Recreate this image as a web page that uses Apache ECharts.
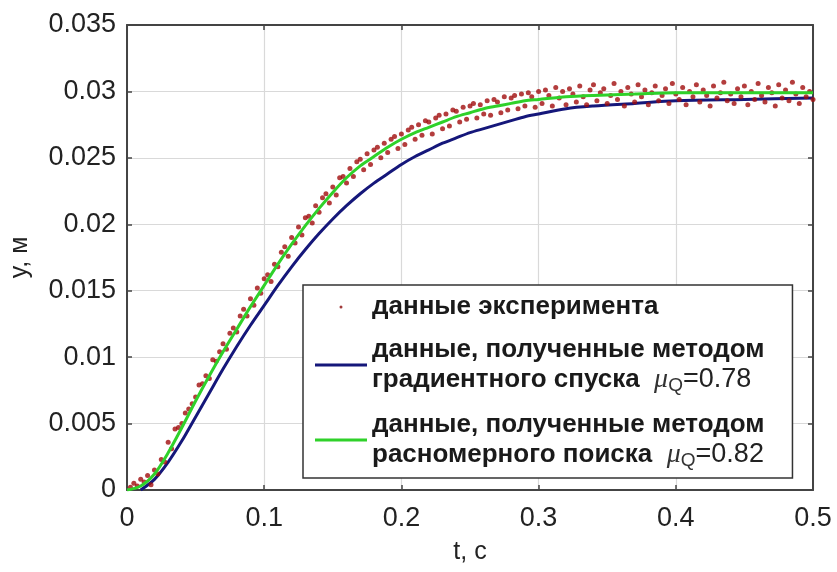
<!DOCTYPE html>
<html>
<head>
<meta charset="utf-8">
<script src="https://cdn.jsdelivr.net/npm/echarts@6/dist/echarts.min.js"></script>
<style>
	html, body { margin: 0; padding: 0; background: #fff; }
	#main { width: 837px; height: 572px; }
</style>
</head>
<body>
<div id="main"></div>
<script>
// ticks
var xTicks = [0, 0.1, 0.2, 0.3, 0.4, 0.5];
var yTicks = [0, 0.005, 0.01, 0.015, 0.02, 0.025, 0.03, 0.035];

// gradient descent model (blue)
var blueT = [0.01, 0.02, 0.03, 0.04, 0.05, 0.06, 0.07, 0.08, 0.09, 0.1,
	0.11, 0.12, 0.13, 0.14, 0.15, 0.16, 0.17, 0.18, 0.19, 0.2,
	0.21, 0.22, 0.23, 0.24, 0.25, 0.26, 0.27, 0.28, 0.29, 0.3,
	0.32, 0.34, 0.37, 0.4, 0.45, 0.5];
var blueY = [0, 0.0008, 0.0021, 0.0037, 0.0055, 0.0073, 0.0091, 0.0108, 0.0124, 0.0139,
	0.0154, 0.0168, 0.0181, 0.0193, 0.0204, 0.0214, 0.0223, 0.0231, 0.0238, 0.0245,
	0.0251, 0.0256, 0.0261, 0.0265, 0.0269, 0.0272, 0.0275, 0.0278, 0.0281, 0.0283,
	0.0287, 0.0289, 0.0291, 0.0293, 0.0294, 0.0295];

// search model (green)
var greenT = [0, 0.01, 0.02, 0.03, 0.04, 0.05, 0.06, 0.07, 0.08, 0.09, 0.1,
	0.11, 0.12, 0.13, 0.14, 0.15, 0.16, 0.17, 0.18, 0.19, 0.2,
	0.21, 0.22, 0.23, 0.24, 0.25, 0.26, 0.27, 0.28, 0.29, 0.3,
	0.32, 0.34, 0.37, 0.4, 0.45, 0.5];
var greenY = [0, 0.0003, 0.0012, 0.0028, 0.0047, 0.0067, 0.0086, 0.0104, 0.0121, 0.0138, 0.0154,
	0.017, 0.0185, 0.0199, 0.0212, 0.0224, 0.0235, 0.0244, 0.0251, 0.0258, 0.0264,
	0.0269, 0.0273, 0.0277, 0.0281, 0.0284, 0.0287, 0.0289, 0.0291, 0.0293, 0.0294,
	0.0296, 0.0297, 0.0298, 0.0299, 0.0299, 0.0299];

// experiment points [t, y]
var expPoints = [
	[0.0025,0.0002],[0.005,0.0005],[0.0075,0.0003],[0.01,0.0008],[0.0125,0.0006],[0.015,0.0011],[0.0175,0.0004],[0.02,0.0015],
	[0.0225,0.0012],[0.025,0.0023],[0.0275,0.0021],[0.03,0.0036],[0.0325,0.0031],[0.035,0.0046],[0.0375,0.0047],[0.04,0.0050],
	[0.0425,0.0058],[0.045,0.0061],[0.0475,0.0065],[0.05,0.0070],[0.0525,0.0079],[0.055,0.0080],[0.0575,0.0086],[0.06,0.0084],
	[0.0625,0.0098],[0.065,0.0097],[0.0675,0.0104],[0.07,0.0110],[0.0725,0.0106],[0.075,0.0118],[0.0775,0.0122],[0.08,0.0119],
	[0.0825,0.0131],[0.085,0.0136],[0.0875,0.0131],[0.09,0.0144],[0.0925,0.0139],[0.095,0.0152],[0.0975,0.0148],[0.1,0.0159],
	[0.1025,0.0162],[0.105,0.0157],[0.1075,0.0170],[0.11,0.0168],[0.1125,0.0179],[0.115,0.0183],[0.1175,0.0176],[0.12,0.0190],
	[0.1225,0.0186],[0.125,0.0198],[0.1275,0.0192],[0.13,0.0205],[0.1325,0.0206],[0.135,0.0201],[0.1375,0.0214],[0.14,0.0209],
	[0.1425,0.0220],[0.145,0.0223],[0.1475,0.0216],[0.15,0.0228],[0.1525,0.0222],[0.155,0.0235],[0.1575,0.0236],[0.16,0.0231],
	[0.1625,0.0242],[0.165,0.0236],[0.1675,0.0247],[0.17,0.0249],[0.1725,0.0241],[0.175,0.0253],[0.1775,0.0245],[0.18,0.0256],
	[0.1825,0.0258],[0.185,0.0250],[0.1875,0.0261],[0.19,0.0254],[0.1925,0.0264],[0.195,0.0266],[0.1975,0.0257],[0.2,0.0268],
	[0.2025,0.0260],[0.205,0.0271],[0.2075,0.0273],[0.21,0.0264],[0.2125,0.0275],[0.215,0.0267],[0.2175,0.0278],[0.22,0.0277],
	[0.2225,0.0268],[0.225,0.0280],[0.2275,0.0282],[0.23,0.0272],[0.2325,0.0283],[0.235,0.0274],[0.2375,0.0286],[0.24,0.0285],
	[0.2425,0.0277],[0.245,0.0288],[0.2475,0.0279],[0.25,0.0289],[0.2525,0.0291],[0.255,0.0280],[0.2575,0.0290],[0.26,0.0283],
	[0.2625,0.0293],[0.265,0.0282],[0.2675,0.0294],[0.27,0.0292],[0.2725,0.0284],[0.275,0.0296],[0.2775,0.0286],[0.28,0.0295],
	[0.2825,0.0297],[0.285,0.0287],[0.2875,0.0298],[0.29,0.0289],[0.2925,0.0299],[0.295,0.0296],[0.2975,0.0288],[0.3,0.0300],
	[0.3025,0.0291],[0.305,0.0301],[0.3075,0.0297],[0.31,0.0289],[0.3125,0.0303],[0.315,0.0295],[0.3175,0.0300],[0.32,0.0290],
	[0.3225,0.0302],[0.325,0.0298],[0.3275,0.0292],[0.33,0.0304],[0.3325,0.0296],[0.335,0.0290],[0.3375,0.0301],[0.34,0.0305],
	[0.3425,0.0293],[0.345,0.0299],[0.3475,0.0302],[0.35,0.0291],[0.3525,0.0297],[0.355,0.0306],[0.3575,0.0294],[0.36,0.0300],
	[0.3625,0.0289],[0.365,0.0303],[0.3675,0.0298],[0.37,0.0292],[0.3725,0.0305],[0.375,0.0296],[0.3775,0.0301],[0.38,0.0290],
	[0.3825,0.0299],[0.385,0.0304],[0.3875,0.0293],[0.39,0.0297],[0.3925,0.0302],[0.395,0.0291],[0.3975,0.0306],[0.4,0.0298],
	[0.4025,0.0294],[0.405,0.0303],[0.4075,0.0290],[0.41,0.0300],[0.4125,0.0296],[0.415,0.0305],[0.4175,0.0292],[0.42,0.0301],
	[0.4225,0.0297],[0.425,0.0289],[0.4275,0.0304],[0.43,0.0295],[0.4325,0.0299],[0.435,0.0307],[0.4375,0.0293],[0.44,0.0298],
	[0.4425,0.0291],[0.445,0.0302],[0.4475,0.0296],[0.45,0.0304],[0.4525,0.0290],[0.455,0.0300],[0.4575,0.0294],[0.46,0.0306],
	[0.4625,0.0297],[0.465,0.0292],[0.4675,0.0303],[0.47,0.0299],[0.4725,0.0289],[0.475,0.0305],[0.4775,0.0295],[0.48,0.0301],
	[0.4825,0.0293],[0.485,0.0307],[0.4875,0.0298],[0.49,0.0291],[0.4925,0.0303],[0.495,0.0296],[0.4975,0.0300],[0.5,0.0294]
];

var legendText = {
	'exp': '{b|данные эксперимента}',
	'grad': '{b|данные, полученные методом}\n{b|градиентного спуска  }{mu|μ}{sub|Q}{n|=0.78}',
	'search': '{b|данные, полученные методом}\n{b|расномерного поиска  }{mu|μ}{sub|Q}{n|=0.82}'
};

function pairs(t, y) {
	var out = [];
	for (var i = 0; i < t.length; i++) out.push([t[i], y[i]]);
	return out;
}

var font = '"Liberation Sans", Arial, sans-serif';
var frame = '#444';

function axisX(pos, show) {
	return {
		type: 'value', position: pos, min: 0, max: 0.5, interval: 0.1,
		name: show ? 't, с' : '', nameLocation: 'middle', nameGap: 50,
		nameTextStyle: { fontFamily: font, fontSize: 25, color: '#222' },
		axisLine: { show: true, onZero: false, lineStyle: { color: frame, width: 2 } },
		axisTick: { show: true, inside: true, length: 5, lineStyle: { color: frame, width: 1.5 } },
		axisLabel: { show: show, fontFamily: font, fontSize: 27, color: '#222', margin: 15 },
		splitLine: { show: show, lineStyle: { color: '#d9d9d9', width: 1.2 } }
	};
}
function axisY(pos, show) {
	return {
		type: 'value', position: pos, min: 0, max: 0.035, interval: 0.005,
		name: show ? 'y, м' : '', nameLocation: 'middle', nameGap: 94,
		nameTextStyle: { fontFamily: font, fontSize: 25, color: '#222' },
		axisLine: { show: true, onZero: false, lineStyle: { color: frame, width: 2 } },
		axisTick: { show: true, inside: true, length: 5, lineStyle: { color: frame, width: 1.5 } },
		axisLabel: { show: show, fontFamily: font, fontSize: 27, color: '#222', margin: 11 },
		splitLine: { show: show, lineStyle: { color: '#d9d9d9', width: 1.2 } }
	};
}

var myChart = echarts.init(document.getElementById('main'));
var option = {
	backgroundColor: '#fff',
	animation: false,
	grid: { left: 127, right: 24, top: 25, bottom: 82 },
	xAxis: [axisX('bottom', true), axisX('top', false)],
	yAxis: [axisY('left', true), axisY('right', false)],
	legend: {
		orient: 'vertical',
		left: 303,
		top: 285,
		selectedMode: false,
		backgroundColor: '#fff',
		borderColor: '#333',
		borderWidth: 1.5,
		borderRadius: 0,
		padding: [9, 28, 8, 12],
		itemWidth: 52,
		itemHeight: 3,
		itemGap: 17,
		data: [
			{ name: 'exp', icon: 'circle', itemStyle: { color: '#8a0a0a' } },
			{ name: 'grad', icon: 'rect' },
			{ name: 'search', icon: 'rect' }
		],
		formatter: function(name) { return legendText[name]; },
		textStyle: {
			fontFamily: font,
			color: '#1a1a1a',
			rich: {
				b: { fontFamily: font, fontSize: 26, fontWeight: 'bold', color: '#1a1a1a', lineHeight: 30 },
				mu: { fontFamily: '"Liberation Serif", serif', fontStyle: 'italic', fontSize: 28, color: '#333', lineHeight: 30 },
				sub: { fontFamily: font, fontSize: 19, color: '#333', lineHeight: 30, verticalAlign: 'bottom', padding: [11, 0, 0, 0] },
				n: { fontFamily: font, fontSize: 27, color: '#222', lineHeight: 30 }
			}
		}
	},
	series: [
		{
			name: 'grad', type: 'line', data: pairs(blueT, blueY),
			showSymbol: false, smooth: 0.3, z: 2,
			lineStyle: { color: '#15177a', width: 3 },
			itemStyle: { color: '#15177a' }
		},
		{
			name: 'exp', type: 'scatter', data: expPoints,
			symbolSize: 5, z: 3,
			itemStyle: { color: '#a00d0d' }
		},
		{
			name: 'search', type: 'line', data: pairs(greenT, greenY),
			showSymbol: false, smooth: 0.3, z: 4,
			lineStyle: { color: '#2fd12a', width: 3 },
			itemStyle: { color: '#2fd12a' }
		}
	]
};
myChart.setOption(option);
</script>
</body>
</html>
